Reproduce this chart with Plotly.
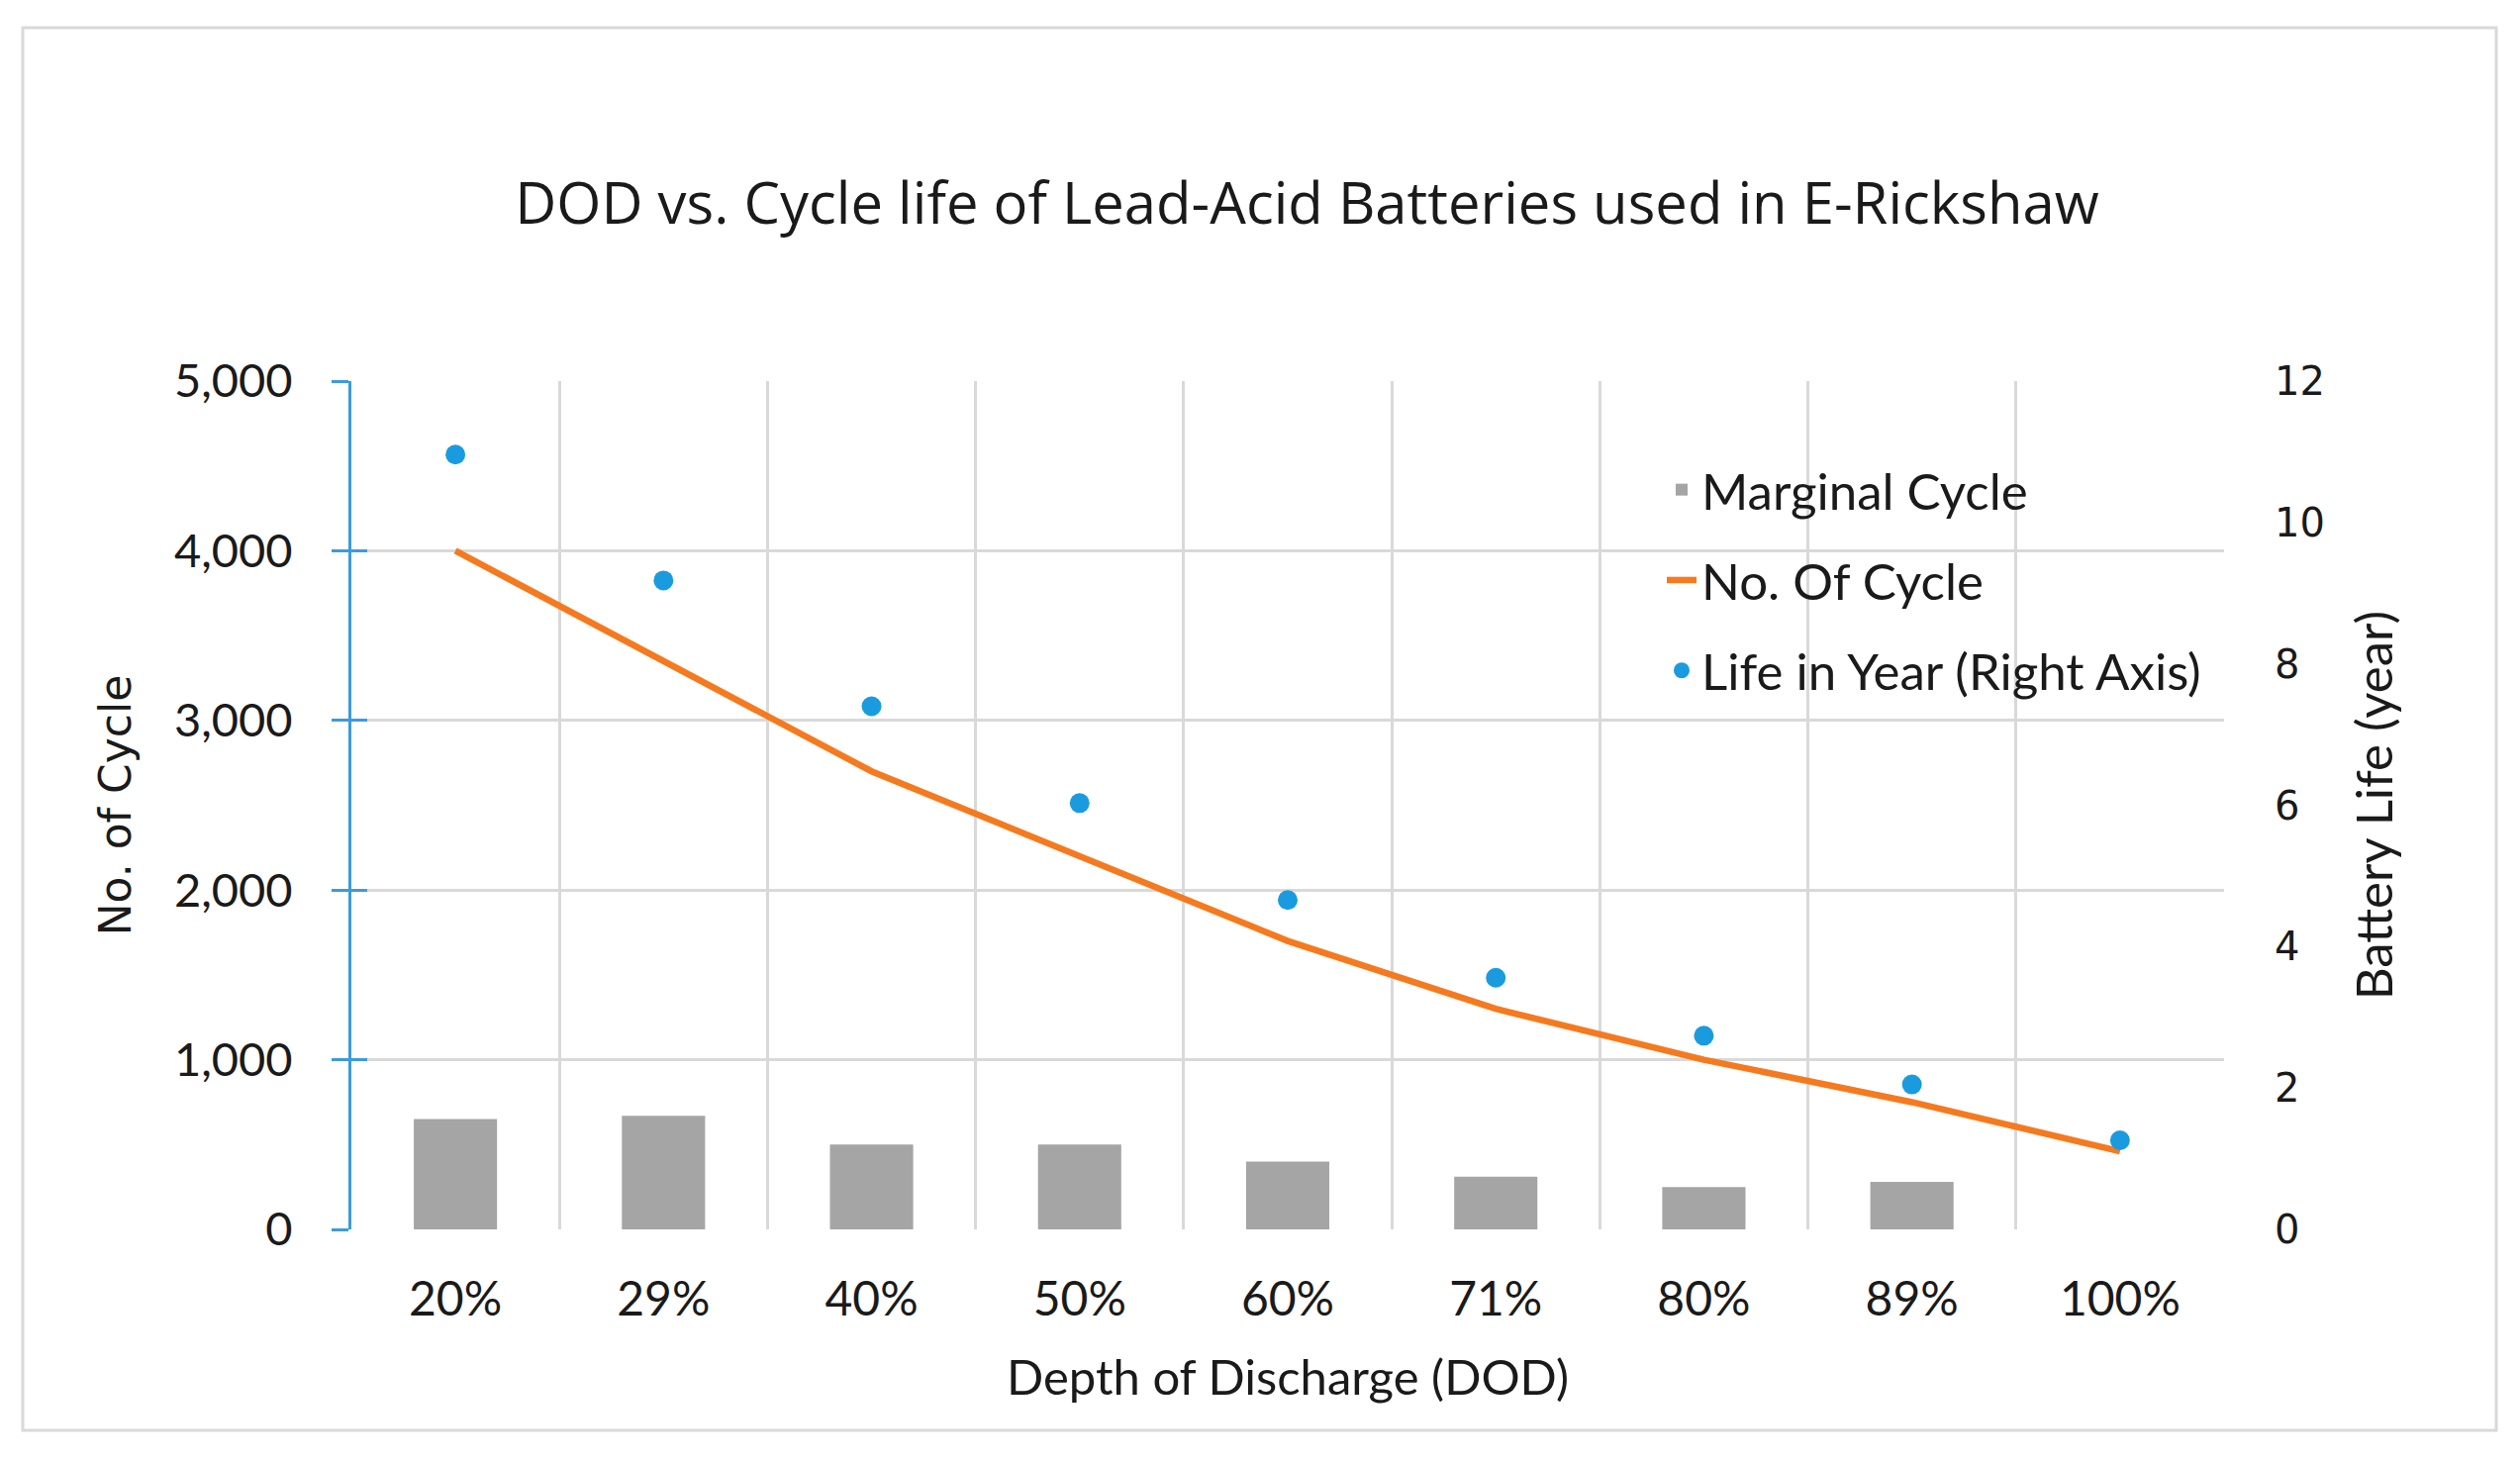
import plotly.graph_objects as go

dod = ["20%", "29%", "40%", "50%", "60%", "71%", "80%", "89%", "100%"]
marginal_cycle = [650, 670, 500, 500, 400, 310, 250, 280, 0]
no_of_cycle = [4000, 3350, 2700, 2200, 1700, 1300, 1000, 750, 460]
life_years = [10.96, 9.18, 7.40, 6.03, 4.66, 3.56, 2.74, 2.05, 1.26]

left_ticks = [0, 1000, 2000, 3000, 4000, 5000]
right_ticks = [0, 2, 4, 6, 8, 10, 12]

W, H = 2546, 1478
PL, PR, PT, PB = 347, 2239, 377, 1234   # plot-area edges in px
L, R, T, B = PL, W - PR, PT, H - PB
pw, ph = PR - PL, PB - PT

BLUE_AXIS = "#3D9BDA"
GRID = "#D9D9D9"
CAL = "Lato, 'Open Sans', sans-serif"
VER = "'DejaVu Sans', Verdana, sans-serif"

fig = go.Figure()
fig.add_trace(go.Bar(
    x=dod, y=marginal_cycle, name="Marginal Cycle", width=0.4,
    marker=dict(color="#A5A5A5", line=dict(width=0)),
    legendgroup="a", yaxis="y"))
fig.add_trace(go.Scatter(
    x=dod, y=no_of_cycle, name="No. Of Cycle", mode="lines",
    line=dict(color="#F57A1F", width=6.5), legendgroup="b", yaxis="y"))
fig.add_trace(go.Scatter(
    x=dod, y=life_years, name="Life in Year (Right Axis)", mode="markers",
    marker=dict(color="#1B9BDF", size=20), legendgroup="c", yaxis="y2"))
# overlay axis carrying the inner half of the left tick marks
fig.add_trace(go.Scatter(x=dod, y=no_of_cycle, mode="none", showlegend=False,
                         hoverinfo="skip", yaxis="y3"))

# outer chart border (decoration)
bx0, bx1, by0, by1 = 15, 2514, 20, 1437
fig.add_shape(type="rect", xref="paper", yref="paper",
              x0=(bx0 - PL) / pw, x1=(bx1 - PL) / pw,
              y0=(PB - by1) / ph, y1=(PB - by0) / ph,
              line=dict(color="#D9D9D9", width=3), layer="below")

fig.update_layout(
    width=W, height=H,
    margin=dict(l=L, r=R, t=T, b=B, pad=0),
    paper_bgcolor="white", plot_bgcolor="white",
    title=dict(text="DOD vs. Cycle life of Lead-Acid Batteries used in E-Rickshaw",
               x=0.5155, xanchor="center", y=1 - 198 / H, yanchor="middle",
               font=dict(family="'Open Sans', sans-serif", size=58, color="#1a1a1a")),
    xaxis=dict(
        type="category", range=[-0.5, 8.5], tickson="boundaries",
        showgrid=True, gridcolor=GRID, gridwidth=2.5,
        showline=False, zeroline=False, ticks="",
        tickfont=dict(family=CAL, size=48, color="#1a1a1a"),
        ticklabelstandoff=38,
        title=dict(text="Depth of Discharge (DOD)", standoff=36,
                   font=dict(family=CAL, size=49, color="#1a1a1a")),
    ),
    yaxis=dict(
        range=[0, 5000], tickvals=left_ticks, tickformat=",",
        showgrid=True, gridcolor=GRID, gridwidth=2.5, zeroline=False,
        showline=True, linecolor=BLUE_AXIS, linewidth=3,
        ticks="outside", ticklen=17, tickwidth=3, tickcolor=BLUE_AXIS,
        ticklabelstandoff=30,
        tickfont=dict(family=CAL, size=47, color="#1a1a1a"),
        title=dict(text="No. of Cycle", standoff=30,
                   font=dict(family=VER, size=44, color="#1a1a1a")),
    ),
    yaxis2=dict(
        overlaying="y", side="right", range=[0, 12], tickvals=right_ticks,
        showgrid=False, zeroline=False, showline=False, ticks="",
        ticklabelstandoff=50,
        tickfont=dict(family=VER, size=40, color="#1a1a1a"),
        title=dict(text="Battery Life (year)", standoff=33,
                   font=dict(family=CAL, size=51, color="#1a1a1a")),
    ),
    yaxis3=dict(
        overlaying="y", side="left", range=[0, 5000], tickvals=left_ticks,
        showgrid=False, zeroline=False, showline=False, showticklabels=False,
        ticks="inside", ticklen=16, tickwidth=3, tickcolor=BLUE_AXIS,
    ),
    legend=dict(
        x=(1671 - PL) / pw, xanchor="left", y=(PB - 447) / ph, yanchor="top",
        bgcolor="rgba(0,0,0,0)", tracegroupgap=22,
        font=dict(family=CAL, size=51, color="#1a1a1a"),
        traceorder="grouped",
    ),
    bargap=0.6,
    showlegend=True,
)

fig.write_html("out.html")
